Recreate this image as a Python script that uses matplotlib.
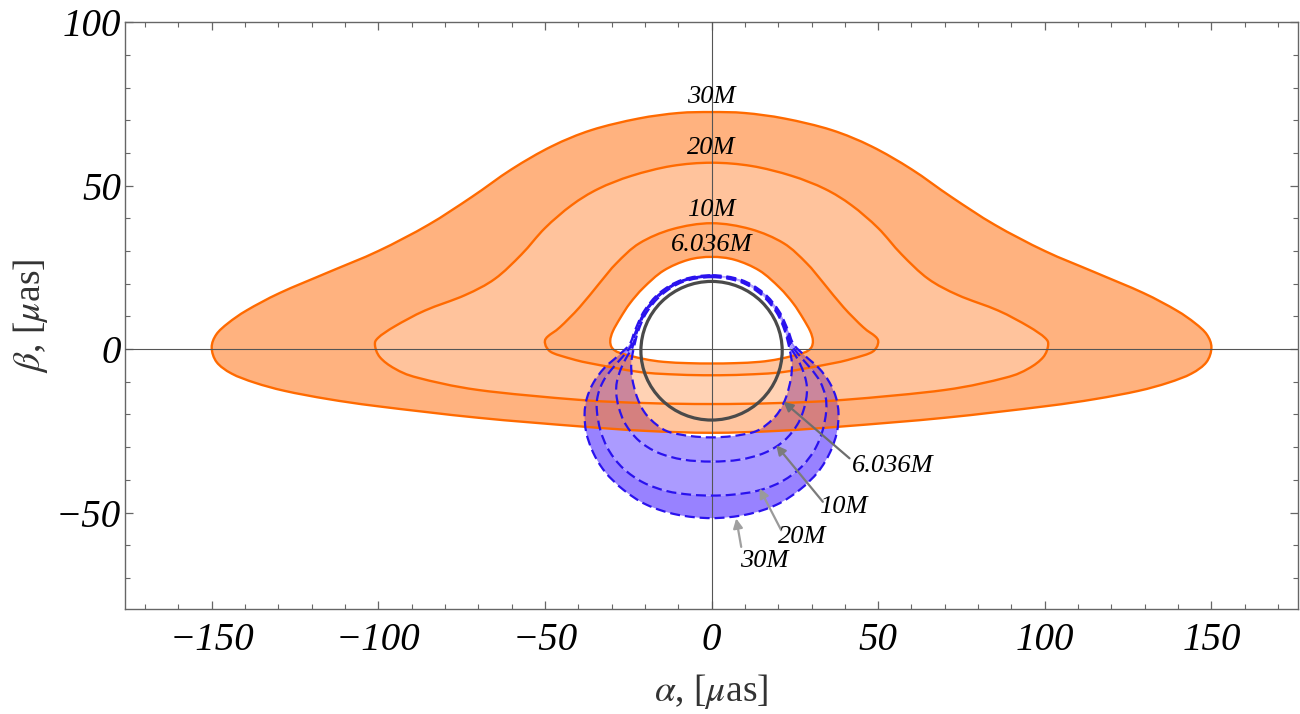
import matplotlib
matplotlib.use("Agg")
import matplotlib.pyplot as plt
from matplotlib.path import Path
from matplotlib.patches import PathPatch, Circle
from matplotlib.ticker import MultipleLocator
from matplotlib.font_manager import FontProperties

plt.rcParams['mathtext.fontset'] = 'stix'
plt.rcParams['font.family'] = ['Liberation Serif', 'DejaVu Serif']

# ---------------- data (right halves, top -> bottom) ----------------
ring_labels = ['6.036M', '10M', '20M', '30M']

# direct images (orange), right half from top centre clockwise to bottom centre
o6_x = [0, 7, 14.4, 20.4, 24.5, 27.4, 29.6, 30.4, 29.8, 27.4, 20.4, 14.4, 7, 0]
o6_y = [28.2, 27.3, 24.0, 18.8, 14.0, 9.5, 5.5, 2.6, 0.3, -1.2, -3.0, -3.9, -4.3, -4.4]

o10_x = [0, 11.7, 21.6, 28.5, 33.6, 39.6, 45.5, 49.0, 50.0, 49.5, 47.6, 42.0, 36.6, 21.6, 10, 0]
o10_y = [38.5, 36.7, 32.4, 26.3, 20.2, 12.8, 6.7, 4.0, 2.5, 0.5, -1.2, -3.0, -4.3, -7.0, -7.8, -8.0]

o20_x = [0, 12, 24, 34, 42, 50, 57, 65, 74, 86, 95, 100, 101, 99.5, 95, 88, 70, 40, 20, 0]
o20_y = [57.0, 56.0, 53.0, 49.0, 44.0, 37.0, 29.0, 21.5, 16.5, 11.8, 7.0, 3.5, 1.2,
         -2.5, -6.0, -8.8, -12.5, -15.5, -16.5, -16.8]

o30_x = [0, 10, 22, 36, 48, 60, 72, 85, 100, 115, 129.5, 139.4, 145, 148.6, 150,
         148.5, 144, 137, 128, 115, 100, 70, 40, 20, 0]
o30_y = [72.5, 72.2, 70.5, 67.0, 62.0, 55.0, 46.5, 38.0, 30.0, 23.5, 17.2, 11.9, 8.0, 4.5, 0.5,
         -4.0, -7.5, -10.3, -12.8, -15.3, -17.5, -21.0, -23.6, -25.0, -25.6]

# secondary images (blue), right half from top centre clockwise to bottom centre
b6_x = [0, 8.5, 15, 19.5, 22, 23.4, 24.1, 23.8, 22.4, 20, 16.4, 12.6, 6.3, 0]
b6_y = [22.0, 20.6, 16.6, 11.2, 5.5, 0, -4.4, -9, -14.6, -19.5, -23.2, -25.4, -26.6, -27.0]

b10_x = [0, 8.6, 15.2, 19.8, 22.3, 23.8, 25.5, 27.2, 28.4, 28.6, 27.8, 25.8, 21.8, 16, 8.5, 0]
b10_y = [22.2, 20.8, 16.8, 11.3, 5.5, 0.5, -2.5, -6, -10, -13.5, -18, -23, -28, -31.7, -33.8, -34.4]

b20_x = [0, 8.7, 15.4, 20, 22.6, 24.2, 26.8, 30, 32.6, 34.2, 34.4, 33.3, 30.8, 26.5, 20.5, 13.5, 6.5, 0]
b20_y = [22.4, 21, 17, 11.5, 5.7, 1, -2.5, -6.2, -10, -14.5, -19, -25, -31, -36.5, -40.8, -43.4, -44.5, -44.8]

b30_x = [0, 8.8, 15.6, 20.2, 22.9, 24.6, 28, 32.2, 35.4, 37.4, 38.1, 37.6, 35.6, 32, 26.5, 19.5, 10.5, 0]
b30_y = [22.6, 21.2, 17.2, 11.7, 5.9, 1.5, -2, -5.8, -10.2, -15, -19.8, -25.5, -31.5, -37.5, -43, -47.6, -50.6, -51.7]

shadow_radius = 21.2
shadow_center = (0.0, -0.5)

# label positions (data coords)
top_label_y = [31.8, 42.5, 61.5, 77.2]                 # 6.036M, 10M, 20M, 30M
arrow_tip = [(21.6, -16.1), (19.4, -29.4), (14.4, -42.6), (7.4, -51.8)]
arrow_tail = [(41.4, -33.4), (33.4, -46.7), (20.9, -55.4), (8.9, -60.5)]
arrow_text = [(42.0, -35.9), (32.2, -48.2), (19.8, -57.6), (8.5, -64.8)]

xticks = [-150, -100, -50, 0, 50, 100, 150]
yticks = [-50, 0, 50, 100]


def full_loop(rx, ry):
    xs = list(rx) + [-v for v in rx[::-1][1:-1]]
    ys = list(ry) + list(ry[::-1][1:-1])
    return list(zip(xs, ys))


def smooth_loop(pts):
    """Closed smooth path through the given points (cubic Bezier segments)."""
    n = len(pts)
    verts = [pts[0]]
    codes = [Path.MOVETO]
    for i in range(n):
        p0 = pts[(i - 1) % n]
        p1 = pts[i]
        p2 = pts[(i + 1) % n]
        p3 = pts[(i + 2) % n]
        c1 = (p1[0] + (p2[0] - p0[0]) / 6.0, p1[1] + (p2[1] - p0[1]) / 6.0)
        c2 = (p2[0] - (p3[0] - p1[0]) / 6.0, p2[1] - (p3[1] - p1[1]) / 6.0)
        verts += [c1, c2, p2]
        codes += [Path.CURVE4] * 3
    verts.append(pts[0])
    codes.append(Path.CLOSEPOLY)
    return verts, codes


def loop_path(rx, ry, reverse=False):
    pts = full_loop(rx, ry)
    if reverse:
        pts = pts[::-1]
    return smooth_loop(pts)


def annulus(outer, inner):
    v1, c1 = loop_path(*outer)
    v2, c2 = loop_path(*inner, reverse=True)
    return Path(v1 + v2, c1 + c2)


fig = plt.figure(figsize=(13, 7.14), dpi=100)
ax = fig.add_axes([0.0962, 0.147, 0.9023, 0.822])

O = [(o6_x, o6_y), (o10_x, o10_y), (o20_x, o20_y), (o30_x, o30_y)]
B = [(b6_x, b6_y), (b10_x, b10_y), (b20_x, b20_y), (b30_x, b30_y)]

# blue fills
blue_cols = ['#ab9bff', '#ab9bff', '#9882ff']
for i in range(3):
    ax.add_patch(PathPatch(annulus(B[i + 1], B[i]), facecolor=blue_cols[i],
                           edgecolor='none', zorder=1))

# orange fills
orange_alpha = [0.5, 0.39, 0.5]
for i in range(3):
    ax.add_patch(PathPatch(annulus(O[i + 1], O[i]), facecolor='#ff6600',
                           alpha=orange_alpha[i], edgecolor='none', zorder=2))

# light veil inside innermost secondary image
pv, cv = loop_path(b6_x, b6_y)
ax.add_patch(PathPatch(Path(pv, cv), facecolor='white', alpha=0.25,
                       edgecolor='none', zorder=2.5))

# orange outlines
for rx, ry in O:
    v, c = loop_path(rx, ry)
    ax.add_patch(PathPatch(Path(v, c), facecolor='none', edgecolor='#ff6a00',
                           lw=1.7, zorder=3))

# axes cross lines
ax.axhline(0, color='#555555', lw=0.8, zorder=3.5)
ax.axvline(0, color='#555555', lw=0.8, zorder=3.5)

# blue dashed outlines
for rx, ry in B:
    v, c = loop_path(rx, ry)
    ax.add_patch(PathPatch(Path(v, c), facecolor='none', edgecolor='#2a12ee',
                           lw=1.6, linestyle=(0, (4.5, 2.2)), zorder=4))

# shadow circle
ax.add_patch(Circle(shadow_center, shadow_radius, facecolor='none',
                    edgecolor='#4a4a4a', lw=2.3, zorder=5))

lab_font = FontProperties(family='Liberation Serif', style='italic', size=19)
for lab, yy in zip(ring_labels, top_label_y):
    ax.text(0, yy, lab, ha='center', va='center', fontproperties=lab_font, zorder=6)

arrow_cols = ['#6e6e6e', '#7c7c7c', '#9a9a9a', '#a0a0a0']
for lab, tip, tail, tpos, col in zip(ring_labels, arrow_tip, arrow_tail, arrow_text, arrow_cols):
    ax.annotate('', xy=tip, xytext=tail,
                arrowprops=dict(arrowstyle='-|>', color=col, lw=1.6,
                                mutation_scale=14, shrinkA=0, shrinkB=0),
                zorder=6)
    ax.text(tpos[0], tpos[1], lab, ha='left', va='center', fontproperties=lab_font, zorder=6)

ax.set_xlim(-176, 176)
ax.set_ylim(-79.5, 100)
ax.set_xticks(xticks)
ax.set_yticks(yticks)
ax.xaxis.set_minor_locator(MultipleLocator(10))
ax.yaxis.set_minor_locator(MultipleLocator(10))
ax.tick_params(which='both', direction='in', top=True, right=True, color='#666666')
ax.tick_params(which='major', length=6, width=0.9)
ax.tick_params(which='minor', length=3.5, width=0.8)
ax.tick_params(axis='x', pad=9)
ax.tick_params(axis='y', pad=3)

tick_font = FontProperties(family='Liberation Serif', style='italic', size=28)
ax.set_xticklabels([str(v).replace('-', '\u2212') for v in xticks], fontproperties=tick_font)
ax.set_yticklabels([str(v).replace('-', '\u2212') for v in yticks], fontproperties=tick_font)

for s in ax.spines.values():
    s.set_color('#666666')
    s.set_linewidth(1.0)

ax.set_xlabel(r'$\alpha$, [$\mu$as]', fontsize=27, color='#333333', labelpad=10)
ax.set_ylabel(r'$\beta$, [$\mu$as]', fontsize=27, color='#333333', labelpad=4)

fig.savefig('out.png', dpi=100)
